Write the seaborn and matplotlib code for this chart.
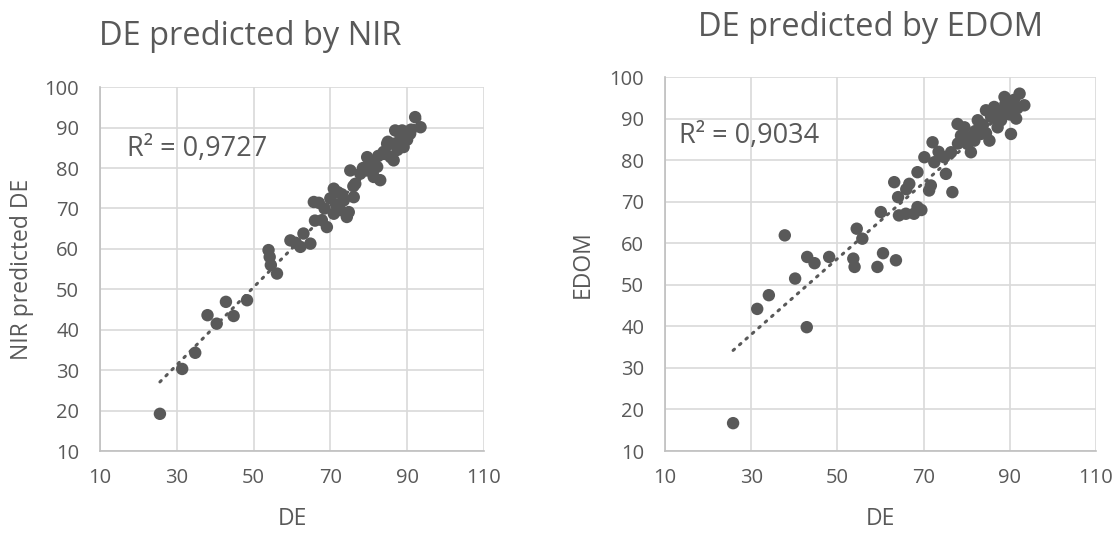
import numpy as np
import pandas as pd
import seaborn as sns
import matplotlib.pyplot as plt

# ---- data ----
nir_de = [25.6, 31.4, 34.8, 38.0, 40.4, 42.8, 44.8, 48.3, 53.9, 54.2, 54.5, 56.1,
          59.6, 61.0, 62.2, 63.0, 64.8, 65.7, 67.0, 67.8, 69.1, 70.9, 70.9, 72.6,
          73.5, 74.3, 74.8, 76.1, 76.5, 75.2, 77.8, 79.6, 79.6, 81.3, 83.0, 82.2,
          83.9, 84.8, 85.7, 86.5, 86.9, 86.5, 88.3, 89.1, 90.8, 92.1, 93.5, 88.7,
          66.0, 68.5, 71.5, 72.0, 78.5, 80.5, 84.0, 87.5, 90.0, 91.0, 85.0, 82.5,
          76.0, 73.0, 70.0, 81.0, 88.0]
nir_pred = [19.2, 30.3, 34.3, 43.6, 41.5, 46.9, 43.4, 47.3, 59.7, 58.0, 56.0, 53.9,
            62.1, 61.5, 60.5, 63.8, 61.3, 71.6, 71.4, 67.1, 65.4, 68.7, 74.9, 69.6,
            72.0, 67.9, 69.1, 72.8, 76.1, 79.4, 78.6, 82.7, 79.4, 77.8, 77.0, 80.3,
            84.0, 86.0, 82.7, 81.9, 89.3, 86.0, 87.7, 85.2, 88.5, 92.6, 90.1, 89.3,
            67.0, 70.0, 71.0, 74.0, 80.0, 81.5, 83.5, 84.5, 87.0, 89.5, 86.5, 83.0,
            75.5, 73.5, 72.5, 79.0, 85.5]

edom_de = [25.8, 31.4, 34.1, 37.8, 40.2, 42.9, 43.0, 44.7, 48.1, 53.7, 54.0, 54.5,
           55.8, 59.3, 60.1, 60.6, 63.6, 63.2, 64.1, 64.3, 65.9, 66.7, 67.8, 68.6,
           68.6, 70.2, 71.3, 71.7, 72.1, 72.5, 74.8, 75.2, 76.7, 76.4, 77.9, 78.7,
           79.5, 80.2, 81.0, 81.8, 82.6, 83.3, 85.3, 84.5, 85.7, 86.4, 87.2, 88.0,
           88.8, 89.5, 90.3, 90.7, 91.5, 92.3, 93.4, 80.5, 82.0, 83.8, 86.8, 87.8,
           89.0, 90.0, 91.0, 84.5, 78.0, 73.5, 69.5, 66.0, 79.0, 88.5, 91.8]
edom_pred = [16.7, 44.2, 47.5, 61.9, 51.5, 39.8, 56.7, 55.2, 56.7, 56.3, 54.3, 63.5,
             61.1, 54.3, 67.5, 57.6, 55.9, 74.7, 71.1, 66.7, 67.1, 74.3, 67.1, 68.7,
             77.1, 80.7, 72.7, 73.9, 84.3, 79.5, 80.7, 76.7, 72.3, 81.9, 88.7, 85.9,
             87.9, 83.9, 81.9, 84.7, 89.6, 86.3, 84.7, 92.0, 90.4, 92.8, 87.9, 89.6,
             95.2, 92.0, 86.3, 94.0, 90.0, 96.0, 93.2, 85.5, 87.0, 88.5, 90.0, 91.5,
             93.5, 91.0, 94.5, 86.5, 84.0, 82.0, 68.0, 73.0, 86.0, 91.0, 92.5]

ticks_x = [10, 30, 50, 70, 90, 110]
ticks_y = [10, 20, 30, 40, 50, 60, 70, 80, 90, 100]

panels = [
    dict(x=nir_de, y=nir_pred, title="DE predicted by NIR", ylabel="NIR predicted DE",
         r2="0,9727", rect=[0.0894, 0.157, 0.343, 0.680], title_xy=(0.2234, 0.931),
         ylab_x=0.020, r2_xy=(17.0, 84.8)),
    dict(x=edom_de, y=edom_pred, title="DE predicted by EDOM", ylabel="EDOM",
         r2="0,9034", rect=[0.5943, 0.157, 0.385, 0.699], title_xy=(0.7775, 0.948),
         ylab_x=0.521, r2_xy=(13.2, 85.8)),
]

sns.set_theme(style="whitegrid")
plt.rcParams['font.family'] = ['Open Sans', 'DejaVu Sans']
text_c = "#595959"
fig = plt.figure(figsize=(11.19, 5.35), dpi=100)

for p in panels:
    ax = fig.add_axes(p["rect"])
    df = pd.DataFrame({"DE": p["x"], "Pred": p["y"]})
    sns.regplot(data=df, x="DE", y="Pred", ax=ax, scatter=False, ci=None,
                line_kws=dict(color=text_c, lw=2.2, linestyle=(0, (0.6, 2.2)),
                              dash_capstyle="round"))
    sns.scatterplot(data=df, x="DE", y="Pred", ax=ax, color="#595959", s=80,
                    edgecolor="none", zorder=3)
    ax.set_xlim(10, 110)
    ax.set_ylim(10, 100)
    ax.set_xticks(ticks_x)
    ax.set_yticks(ticks_y)
    ax.grid(True, color="#d9d9d9", lw=1.2)
    for s in ["top", "right"]:
        ax.spines[s].set_visible(False)
    for s in ["left", "bottom"]:
        ax.spines[s].set_color("#bfbfbf")
        ax.spines[s].set_linewidth(1.2)
    ax.tick_params(axis="both", colors=text_c, labelsize=14.5, length=0)
    ax.tick_params(axis="x", pad=12)
    ax.tick_params(axis="y", pad=15)
    ax.set_xlabel("")
    ax.set_ylabel("")
    ax.text(p["r2_xy"][0], p["r2_xy"][1], "R² = " + p["r2"], fontsize=19.5,
            color=text_c, va="center", ha="left")
    fig.text(p["title_xy"][0], p["title_xy"][1], p["title"], fontsize=23.5,
             color=text_c, ha="center", va="center")
    cx = p["rect"][0] + p["rect"][2] / 2
    fig.text(cx, 0.030, "DE", fontsize=16.5, color=text_c, ha="center", va="center")
    fig.text(p["ylab_x"], p["rect"][1] + p["rect"][3] / 2,
             p["ylabel"], fontsize=16.5, color=text_c, rotation=90,
             ha="center", va="center")

fig.savefig("out.png", dpi=100)
